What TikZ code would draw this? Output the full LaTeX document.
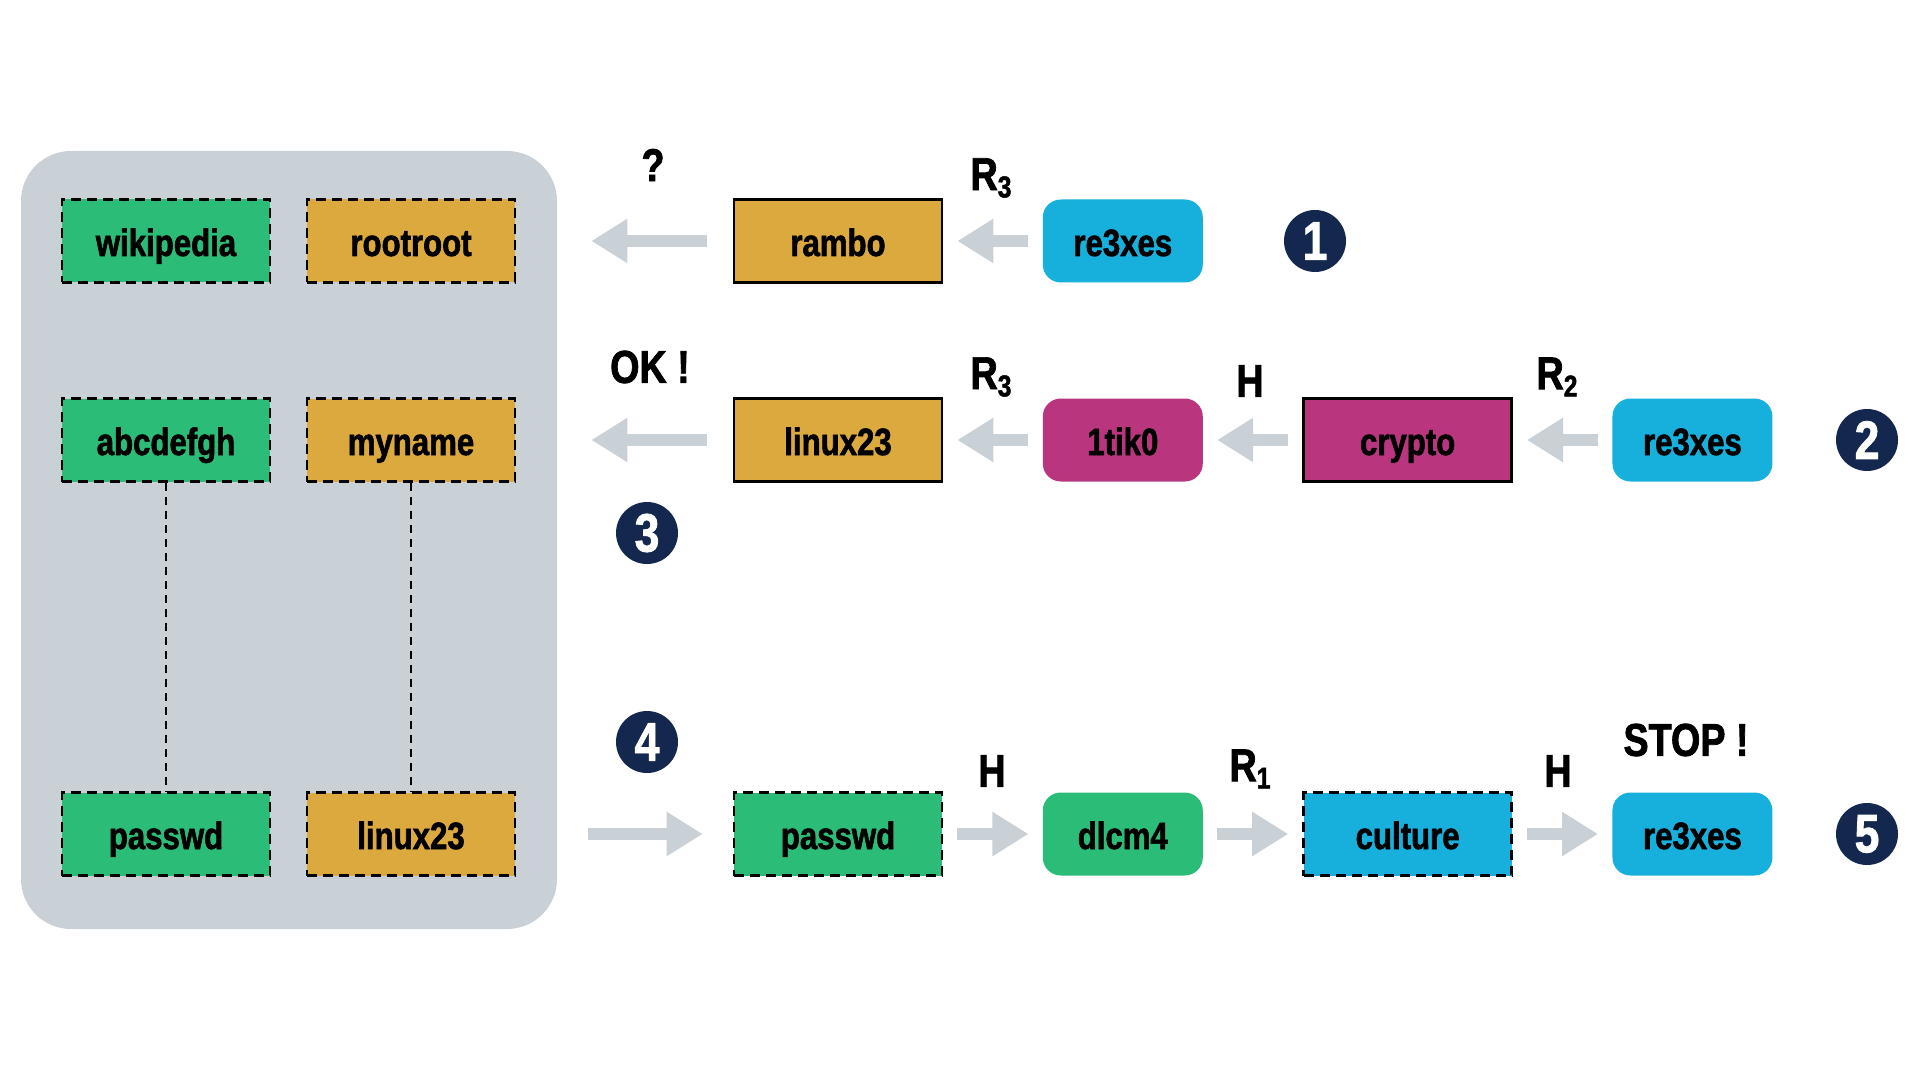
\documentclass[tikz,border=0pt]{standalone}
\usepackage{fontspec}
\setmainfont{Liberation Sans}[FakeStretch=0.82,BoldFeatures={FakeBold=1.6}]
\usetikzlibrary{arrows.meta,positioning}
\definecolor{pwgreen}{HTML}{2BBD78}
\definecolor{pwgold}{HTML}{DBA93E}
\definecolor{pwblue}{HTML}{17AFDC}
\definecolor{pwpink}{HTML}{B9367F}
\definecolor{pwgray}{HTML}{C9D0D6}
\definecolor{pwnavy}{HTML}{14284F}
\newcommand{\Rsub}[1]{R\raisebox{-0.3ex}{\fontsize{15}{15}\selectfont #1}}

\begin{document}
\begin{tikzpicture}[% pixel grid of the 1920x1080 sheet, y downwards
			x=0.5pt,y=-0.5pt,
			every node/.style={
				inner sep=0pt,
				font=\bfseries\fontsize{19}{19}\selectfont
			},
			node distance=49.5pt,
			word/.style={minimum width=104pt,minimum height=41.5pt,line width=1.4pt,text height=16pt,text depth=1pt},
			saved/.style={word,draw=black,dash pattern=on 5pt off 3pt},
			hashbox/.style={word,draw=black},
			hostbox/.style={minimum width=80pt,minimum height=41.5pt,rounded corners=9pt,text height=16pt,text depth=1pt},
			tag/.style={font=\bfseries\fontsize{23}{23}\selectfont},
			num/.style={circle,fill=pwnavy,text=white,minimum size=31pt,font=\bfseries\fontsize{27}{27}\selectfont},
			every edge/.style={draw=pwgray,line width=6pt,-{Triangle[width=21pt,length=18pt]},shorten <=7pt,shorten >=7pt}
		]
		\useasboundingbox (0,0) rectangle (1920,1080);
		% dictionary panel
		\node[fill=pwgray,rounded corners=25pt,minimum width=268pt,minimum height=389pt](store) at (289,540){};
		\node[saved,fill=pwgreen](wiki) at (166,241){wikipedia};
		\node[saved,fill=pwgold](root) at (411,241){rootroot};
		\node[saved,fill=pwgreen](abc) at (166,440){abcdefgh};
		\node[saved,fill=pwgold](myname) at (411,440){myname};
		\node[saved,fill=pwgreen](pw) at (166,834){passwd};
		\node[saved,fill=pwgold](lin) at (411,834){linux23};
		\draw[line width=1.2pt,dash pattern=on 4pt off 3pt] (abc)--(pw) (myname)--(lin);
		% first chain
		\node[hashbox,fill=pwgold](rambo) at (838,241){rambo};
		\node[hostbox,fill=pwblue](hostA)[right= of rambo]{re3xes};
		\node[num](n1) at (1315,241){1};
		% second chain
		\node[hashbox,fill=pwgold](linux) at (838,440){linux23};
		\node[hostbox,fill=pwpink](tik)[right= of linux]{1tik0};
		\node[hashbox,fill=pwpink](crypto)[right= of tik]{crypto};
		\node[hostbox,fill=pwblue](hostB)[right= of crypto]{re3xes};
		\node[num](n2) at (1867,440){2};
		\node[num](n3) at (647,533){3};
		% third chain
		\node[saved,fill=pwgreen](pwd) at (838,834){passwd};
		\node[hostbox,fill=pwgreen](dlcm)[right= of pwd]{dlcm4};
		\node[saved,fill=pwblue](culture)[right= of dlcm]{culture};
		\node[hostbox,fill=pwblue](hostC)[right= of culture]{re3xes};
		\node[num](n4) at (647,742){4};
		\node[num](n5) at (1867,834){5};
		% labels
		\node[tag](ask) at (653,165){?};
		\node[tag](labA) at (991,178){\Rsub{3}};
		\node[tag](ok) at (650,367){OK !};
		\node[tag](labB) at (991,377){\Rsub{3}};
		\node[tag](labC) at (1250,381){H};
		\node[tag](labD) at (1557,377){\Rsub{2}};
		\node[tag](labE) at (992,771){H};
		\node[tag](labF) at (1250,769){\Rsub{1}};
		\node[tag](labG) at (1558,771){H};
		\node[tag](stop) at (1686,740){STOP !};
		% arrows
		\path
		(hostA)edge (rambo)
		(tik)edge (linux)
		(crypto)edge (tik)
		(hostB)edge (crypto)
		(pwd)edge (dlcm)
		(dlcm)edge (culture)
		(culture)edge (hostC)
		(rambo.west)edge [shorten <=13pt,shorten >=17pt] (rambo.west -| store.east)
		(linux.west)edge [shorten <=13pt,shorten >=17pt] (linux.west -| store.east)
		(pwd.west -| store.east)edge [shorten <=15.5pt,shorten >=15pt] (pwd.west)
		;
	\end{tikzpicture}
\end{document}
